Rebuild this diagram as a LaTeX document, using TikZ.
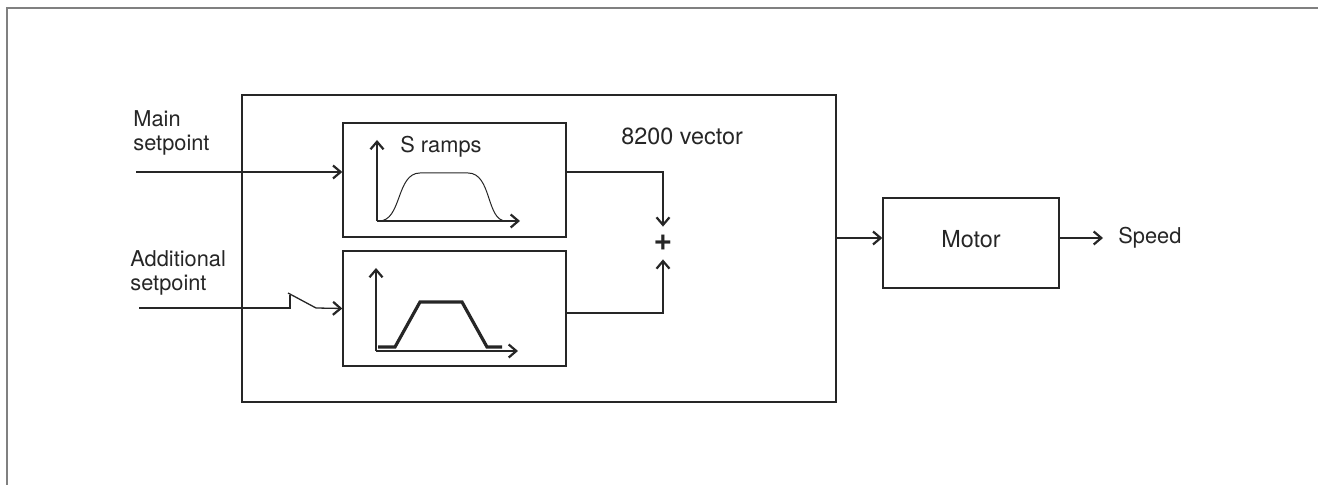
\documentclass[tikz,border=0pt]{standalone}
\usepackage{fontspec}
\setsansfont{TeX Gyre Heros}
\usepackage{tikz}
\usetikzlibrary{arrows.meta,positioning,calc}
\colorlet{driveInk}{black!85}
\colorlet{driveFrame}{black!50}
\tikzset{
  font=\sffamily,
  % one picture unit = one pixel of the sketch, y runs downwards
  block/.style={
    draw=driveInk,
    line width=0.7pt,
    inner sep=0pt
  },
  arrow/.style={
    -{Straight Barb[length=3.8pt,width=6.5pt,line width=1.1pt]},
    line width=0.65pt,
    draw=driveInk
  },
  plain/.style={
    line width=0.65pt,
    draw=driveInk
  },
  scurve/.style={
    line width=0.5pt,
    draw=driveInk
  },
  trapez/.style={
    line width=1.6pt,
    draw=driveInk
  },
  frameline/.style={
    line width=0.9pt,
    draw=driveFrame
  },
  lab/.style={
    inner sep=0pt,
    align=left,
    text=driveInk,
    font=\sffamily\fontsize{10.9}{12.2}\selectfont
  },
  biglab/.style={
    lab,
    font=\sffamily\fontsize{11.7}{13}\selectfont
  }
}

\begin{document}
\begin{tikzpicture}[x=0.5pt,y=-0.5pt]
\useasboundingbox (0,0) rectangle (1318,485);

\draw[frameline] (7,485) -- (7,8) -- (1318,8);

\node[block, minimum width=297pt, minimum height=153.5pt] (vec) at (539,248.5) {};
\node[block, minimum width=111.5pt, minimum height=57pt] (sramp) at (454.5,180) {};
\node[block, minimum width=111.5pt, minimum height=57.5pt] (lramp) at (454.5,308.5) {};
\node[block, minimum width=88pt, minimum height=45pt, text depth=4pt, text=driveInk,
  font=\sffamily\fontsize{11.7}{13}\selectfont] (motor) at (971,243) {Motor};

\node[lab, anchor=north west] (mainlab) at (133,110) {Main\\setpoint};
\node[lab, anchor=north west] (addlab) at (130,250) {Additional\\setpoint};
\node[biglab, anchor=base west] (veclab) at (621,145) {8200 vector};
\node[lab, anchor=base west] (srlab) at (400,153) {S ramps};
\node[lab, anchor=west, inner xsep=7.5pt] (speed) at (1103,238) {Speed};
\node[inner sep=0pt, minimum size=16pt, font=\sffamily\bfseries\fontsize{16}{16}\selectfont,
  text=driveInk] (sum) at (663,243) {+};

\coordinate (mainin) at (136,172);
\coordinate (addin) at (139,308);
\coordinate (swA) at (290,308);
\coordinate (swTop) at (288,293);
\coordinate (swB) at (316,308);

% S ramp plot
\draw[arrow] (377,221) -- (377,140);
\draw[arrow] (377,221) -- (520,221);
\draw[scurve] (379,221) .. controls (402,221) and (396,173) .. (420,173) -- (468,173)
  .. controls (492,173) and (486,221) .. (506,221);

% linear ramp plot
\draw[arrow] (376,351) -- (376,268);
\draw[arrow] (376,351) -- (518,351);
\draw[trapez] (378,347) -- (395,347) -- (420,302) -- (462,302) -- (487,347) -- (502,347);

\draw[arrow] (mainin) -- (mainin -| sramp.west);
\draw[plain] (addin) -- (swA) -- ++(0,-13);
\draw[plain] (swTop) -- (swB);
\draw[arrow] (swB) -- (lramp.west);
\draw[arrow] ([yshift=4pt]sramp.east) -| (sum.north);
\draw[arrow] ([yshift=-2.25pt]lramp.east) -| (sum.south);
\draw[arrow] ([yshift=2.5pt]motor.west -| vec.east) -- ([yshift=2.5pt]motor.west);
\draw[arrow] ([yshift=2.5pt]motor.east) -- (speed.west);

\end{tikzpicture}
\end{document}
